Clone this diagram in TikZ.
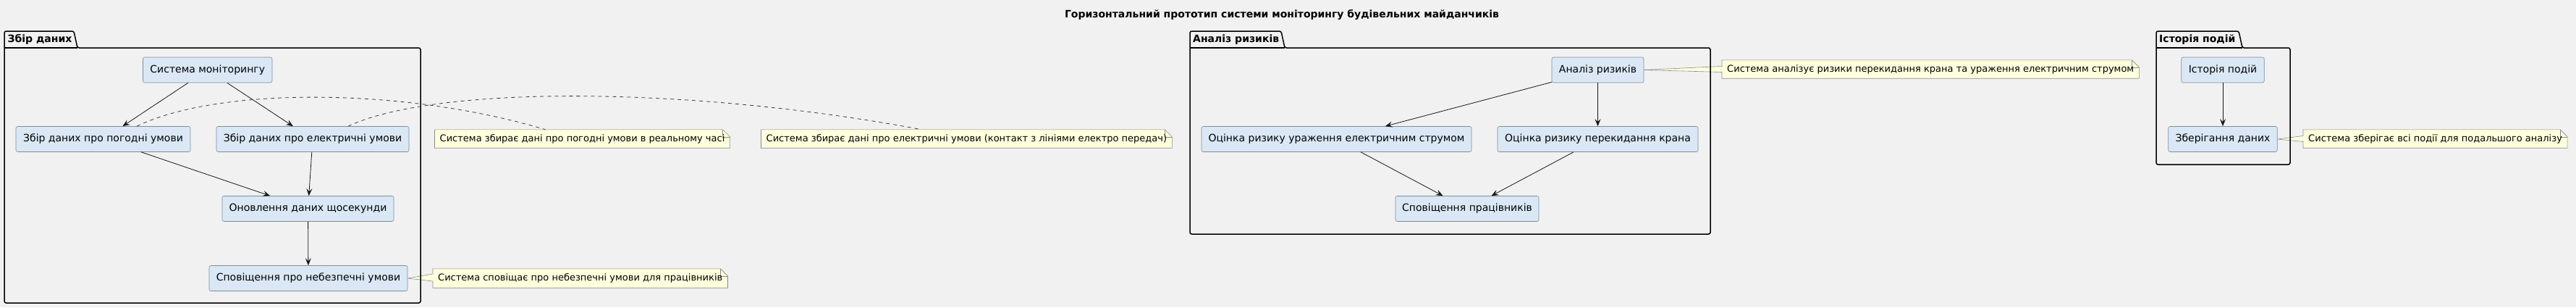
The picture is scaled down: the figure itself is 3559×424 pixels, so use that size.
\documentclass[tikz,border=0pt]{standalone}
\usepackage{fontspec}
\setmainfont{DejaVu Sans}
\usetikzlibrary{arrows.meta}

\pgfdeclarelayer{back}
\pgfsetlayers{back,main}

\definecolor{bgcol}{HTML}{F1F1F1}
\definecolor{blockfill}{HTML}{DAE8F5}
\definecolor{blockline}{HTML}{7F8C99}
\definecolor{notefill}{HTML}{FEFFDD}
\definecolor{noteline}{HTML}{8A8A8A}
\definecolor{edgecol}{HTML}{181818}

\begin{document}
\begin{tikzpicture}[x = 1pt, y = -1pt,
        block/.style = {draw = blockline, fill = blockfill, rounded corners = 2.5pt, line width = 0.6pt,
                minimum height = 35pt, inner sep = 0pt, font = \fontsize{14}{16}\selectfont},
        notetext/.style = {anchor = west, inner xsep = 7pt, inner ysep = 0pt, minimum height = 25pt,
                font = \fontsize{13}{15}\selectfont},
        notebox/.style = {draw = noteline, fill = notefill, line width = 0.6pt},
        flow/.style = {draw = edgecol, line width = 0.8pt, -{Stealth[length = 10pt, width = 8pt, inset = 4pt]}},
        notelink/.style = {draw = edgecol!85, line width = 0.8pt, dash pattern = on 5pt off 5pt},
        pkg/.style = {draw = black, line width = 1.5pt, rounded corners = 2.5pt},
        pkglabel/.style = {anchor = base west, inner sep = 0pt, font = \bfseries\fontsize{14}{16}\selectfont}]
        \useasboundingbox (0,0) rectangle (3559,424);
        \begin{pgfonlayer}{back}
        \fill[bgcol] (0,0) rectangle (3559,424);
        \end{pgfonlayer}
        
        \node[anchor = base, font = \bfseries\fontsize{14}{16}\selectfont] (title) at (1771,24) {Горизонтальний прототип системи моніторингу будівельних майданчиків};
        
        \draw[pkg] (6,418) -- (6,43) -- (102,43) -- (107,66) -- (581,66) -- (581,418) -- cycle;
        \draw[pkg] (6,66) -- (107,66);
        \node[pkglabel] (pkgdata) at (10.5,58) {Збір даних};
        
        \draw[pkg] (1644,323) -- (1644,43) -- (1770,43) -- (1775,66) -- (2363,66) -- (2363,323) -- cycle;
        \draw[pkg] (1644,66) -- (1775,66);
        \node[pkglabel] (pkgrisk) at (1648,58) {Аналіз ризиків};
        
        \draw[pkg] (2979,227) -- (2979,43) -- (3093,43) -- (3098,66) -- (3164,66) -- (3164,227) -- cycle;
        \draw[pkg] (2979,66) -- (3098,66);
        \node[pkglabel] (pkghist) at (2983,58) {Історія подій};
        
        \node[block, minimum width = 178.5pt] (sys) at (286.75,96.5) {Система моніторингу};
        \node[block, minimum width = 241pt] (weather) at (142.5,192) {Збір даних про погодні умови};
        \node[block, minimum width = 266pt] (elec) at (432,192) {Збір даних про електричні умови};
        \node[block, minimum width = 237pt] (update) at (425.5,288) {Оновлення даних щосекунди};
        \node[block, minimum width = 274pt] (alert) at (426,384) {Сповіщення про небезпечні умови};
        
        \node[block, minimum width = 127pt] (risk) at (2207.5,96.5) {Аналіз ризиків};
        \node[block, minimum width = 373pt] (shock) at (1846.5,192) {Оцінка ризику ураження електричним струмом};
        \node[block, minimum width = 277pt] (crane) at (2207.5,192) {Оцінка ризику перекидання крана};
        \node[block, minimum width = 198pt] (notify) at (2027,288) {Сповіщення працівників};
        
        \node[block, minimum width = 114.5pt] (hist) at (3071,96.5) {Історія подій};
        \node[block, minimum width = 150.5pt] (store) at (3071,192) {Зберігання даних};
        
        \draw[flow] (sys) -- (weather);
        \draw[flow] (sys) -- (elec);
        \draw[flow] (weather) -- (update);
        \draw[flow] (elec) -- (update);
        \draw[flow] (update) -- (alert);
        
        \draw[flow] (risk) -- (shock);
        \draw[flow] (risk) -- (crane);
        \draw[flow] (shock) -- (notify);
        \draw[flow] (crane) -- (notify);
        
        \draw[flow] (hist) -- (store);
        
        \node[notetext] (noteweather) at (600.5,191.5) {Система збирає дані про погодні умови в реальному часі};
        \node[notetext] (noteelec) at (1051.5,191.5) {Система збирає дані про електричні умови (контакт з лініями електро передач)};
        \node[notetext, minimum height = 26pt] (notealert) at (598,384) {Система сповіщає про небезпечні умови для працівників};
        \node[notetext] (noterisk) at (2379,95.5) {Система аналізує ризики перекидання крана та ураження електричним струмом};
        \node[notetext] (notestore) at (3182,191.5) {Система зберігає всі події для подальшого аналізу};
        
        \begin{pgfonlayer}{back}
        \filldraw[notebox] (noteweather.south west) -- (noteweather.north west) -- ([xshift = -10pt]noteweather.north east) -- ([yshift = -10pt]noteweather.north east) -- (noteweather.south east) -- cycle;
        \draw[notebox, fill = none] ([xshift = -10pt]noteweather.north east) -- ([xshift = -10pt, yshift = -10pt]noteweather.north east) -- ([yshift = -10pt]noteweather.north east);
        
        \filldraw[notebox] (noteelec.south west) -- (noteelec.north west) -- ([xshift = -10pt]noteelec.north east) -- ([yshift = -10pt]noteelec.north east) -- (noteelec.south east) -- cycle;
        \draw[notebox, fill = none] ([xshift = -10pt]noteelec.north east) -- ([xshift = -10pt, yshift = -10pt]noteelec.north east) -- ([yshift = -10pt]noteelec.north east);
        
        \filldraw[notebox] (alert.east) -- ([yshift = 6pt]notealert.west) -- (notealert.north west) -- ([xshift = -10pt]notealert.north east) -- ([yshift = -10pt]notealert.north east) -- (notealert.south east) -- (notealert.south west) -- ([yshift = -4pt]notealert.west) -- cycle;
        \draw[notebox, fill = none] ([xshift = -10pt]notealert.north east) -- ([xshift = -10pt, yshift = -10pt]notealert.north east) -- ([yshift = -10pt]notealert.north east);
        
        \filldraw[notebox] (risk.east) -- ([yshift = 4pt]noterisk.west) -- (noterisk.north west) -- ([xshift = -10pt]noterisk.north east) -- ([yshift = -10pt]noterisk.north east) -- (noterisk.south east) -- (noterisk.south west) -- ([yshift = -4pt]noterisk.west) -- cycle;
        \draw[notebox, fill = none] ([xshift = -10pt]noterisk.north east) -- ([xshift = -10pt, yshift = -10pt]noterisk.north east) -- ([yshift = -10pt]noterisk.north east);
        
        \filldraw[notebox] (store.east) -- ([yshift = 4pt]notestore.west) -- (notestore.north west) -- ([xshift = -10pt]notestore.north east) -- ([yshift = -10pt]notestore.north east) -- (notestore.south east) -- (notestore.south west) -- ([yshift = -4pt]notestore.west) -- cycle;
        \draw[notebox, fill = none] ([xshift = -10pt]notestore.north east) -- ([xshift = -10pt, yshift = -10pt]notestore.north east) -- ([yshift = -10pt]notestore.north east);
        \end{pgfonlayer}
        
        \draw[notelink] ([xshift = 46.5pt]weather.north) .. controls +(111,-54) and +(-197,-59) .. ([xshift = -51pt]noteweather.north);
        \draw[notelink] ([xshift = 49pt]elec.north) .. controls +(119,-56) and +(-326,-61) .. ([xshift = -62pt]noteelec.north);
        \end{tikzpicture}
\end{document}
